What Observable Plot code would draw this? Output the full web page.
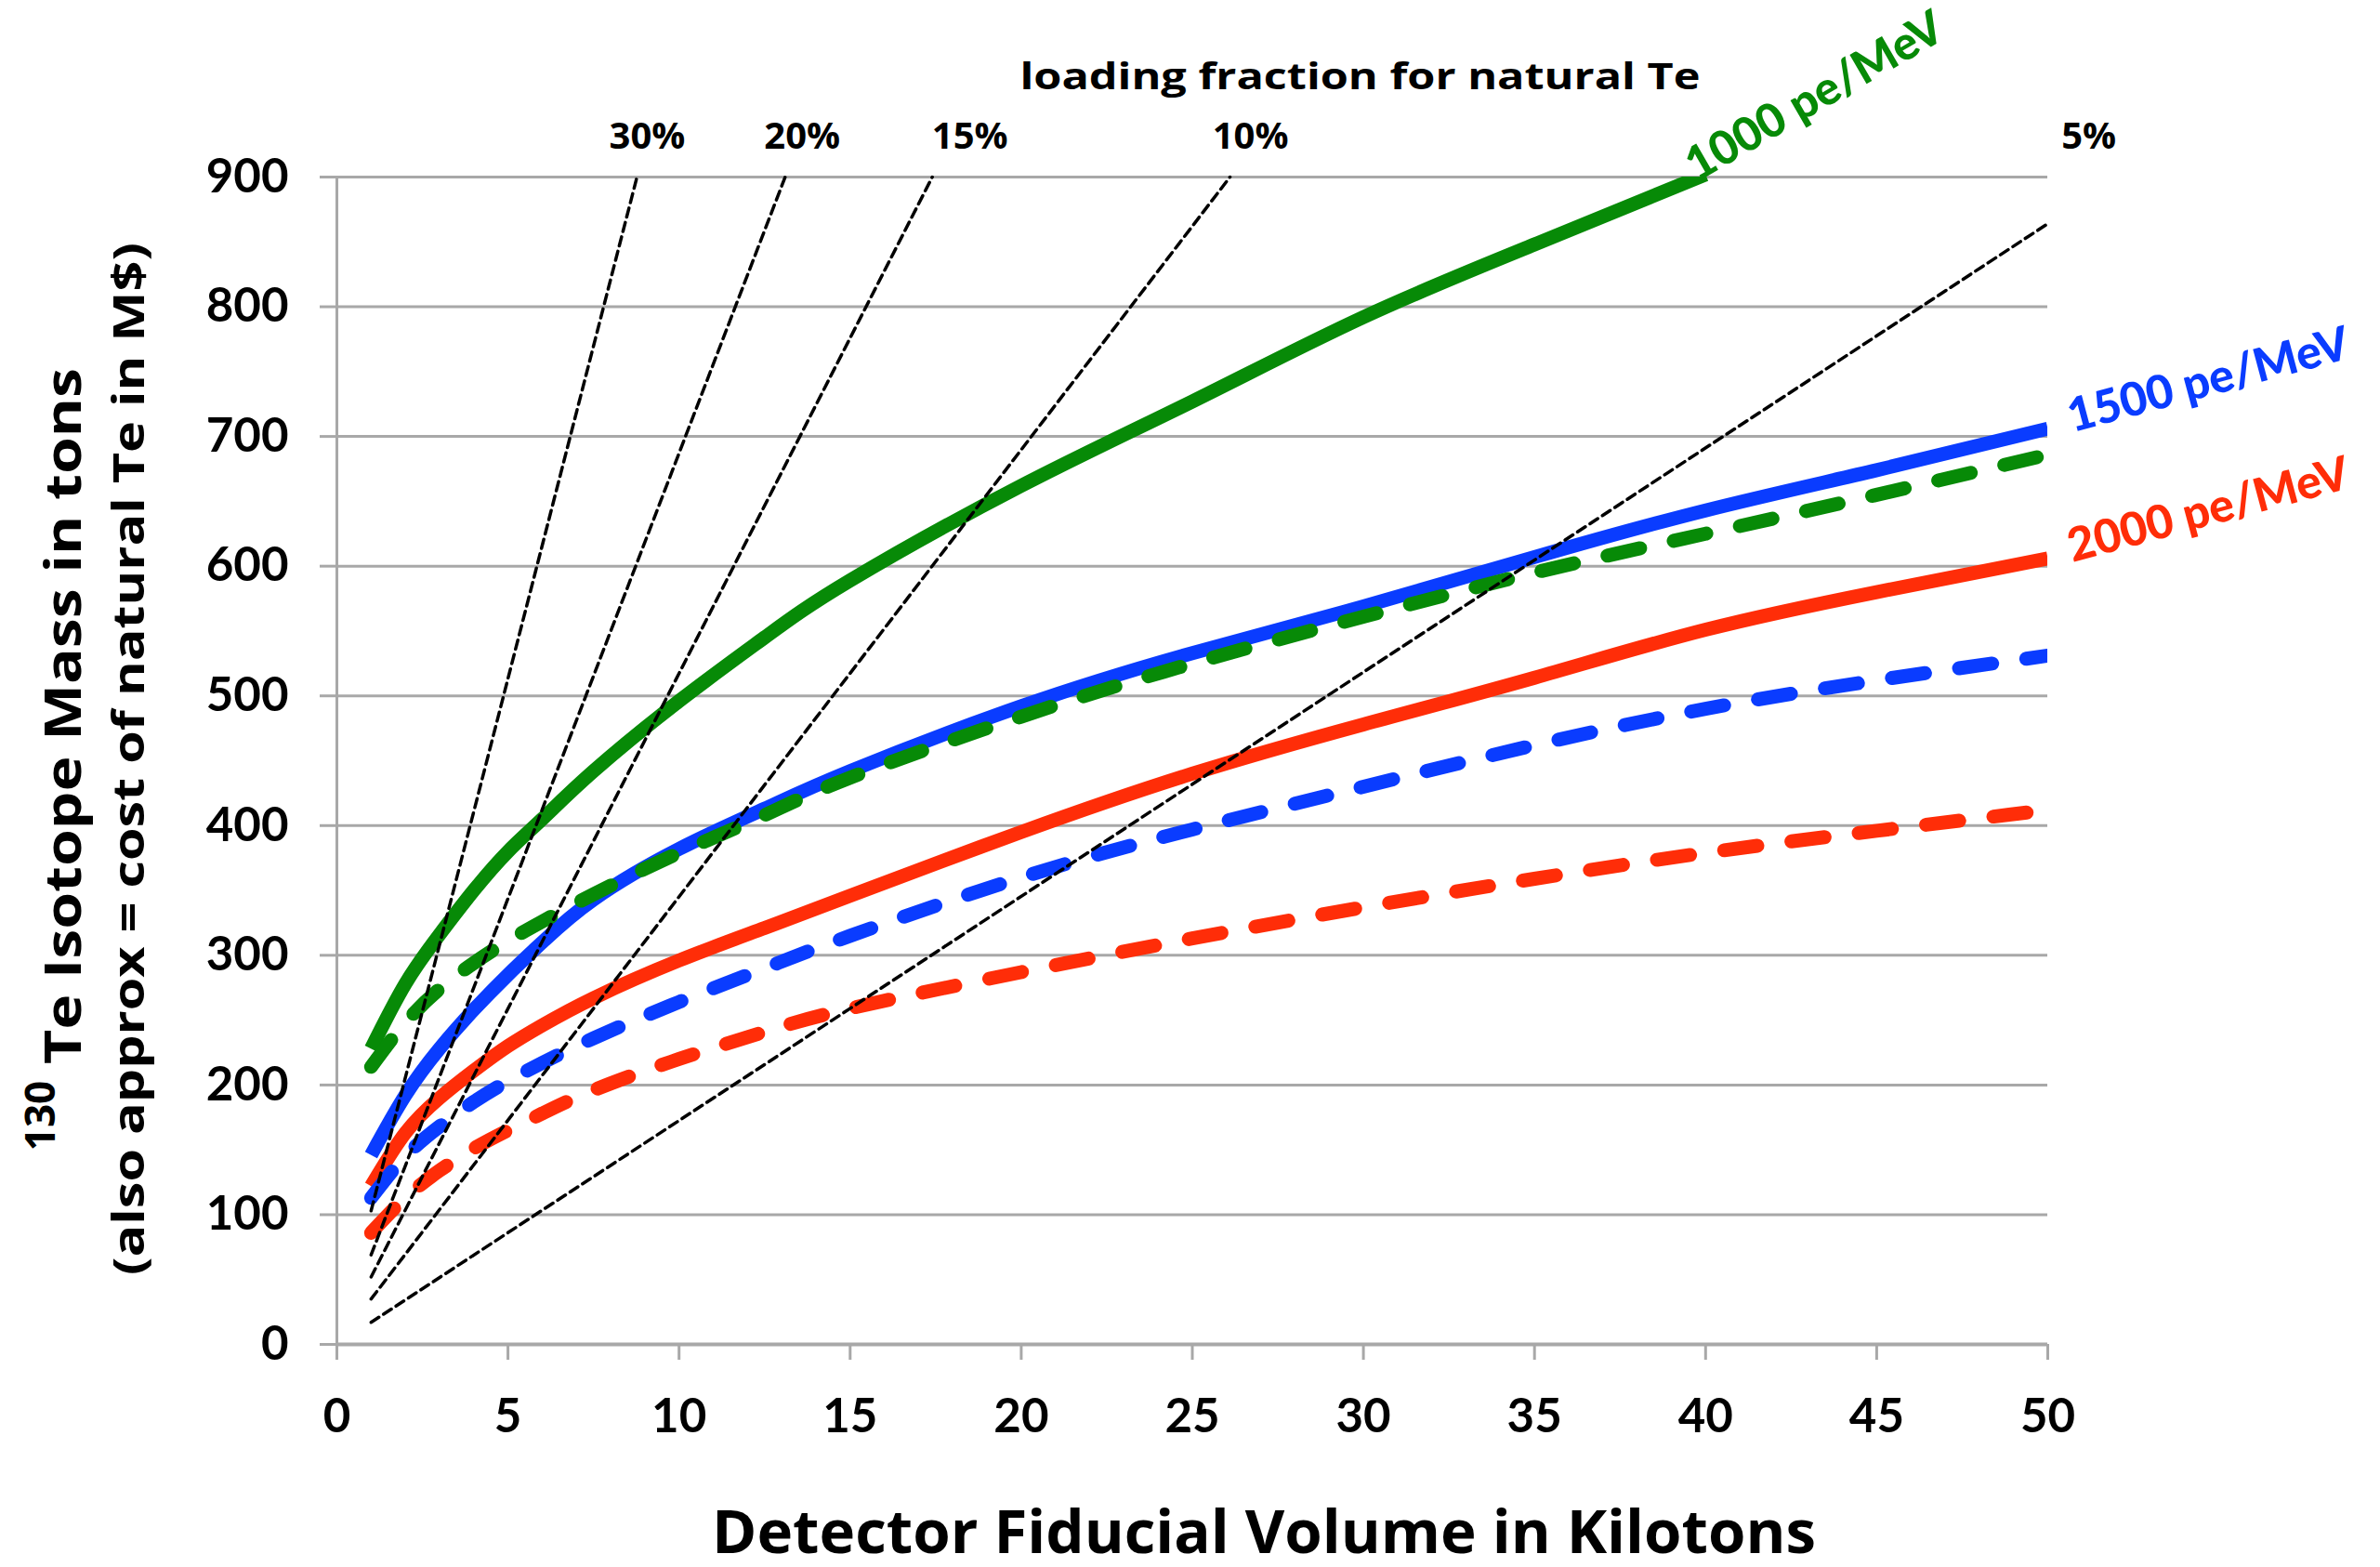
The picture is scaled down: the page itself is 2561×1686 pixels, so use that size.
<!DOCTYPE html>
<html>
<head>
<meta charset="utf-8">
<script src="https://cdn.jsdelivr.net/npm/d3@7"></script>
<script src="https://cdn.jsdelivr.net/npm/@observablehq/plot@0.6"></script>
<style>
  html, body { margin: 0; padding: 0; background: #fff; }
</style>
</head>
<body>
<div id="chart"></div>
<script>
// ---- Data ----
const volume = [1, 2, 3, 4, 5, 6, 7.5, 10, 12.5, 15, 20, 25, 30, 35, 40, 45, 50];

const solid1000  = [228, 278, 316, 350, 380, 405, 442, 496, 545, 589, 662, 727, 792, 848, 902, null, null];
const dashed1000 = [214, 248, 274, 294, 311, 326, 347, 379, 408, 437, 484, 525, 561, 595, 625, 655, 686];
const solid1500  = [146, 192, 228, 258, 285, 310, 343, 382, 413, 442, 492, 533, 569, 607, 643, 674, 706];
const dashed1500 = [113, 145, 168, 187, 203, 217, 236, 264, 290, 315, 360, 397, 430, 462, 490, 512, 531];
const solid2000  = [122, 163, 190, 211, 230, 246, 267, 296, 321, 346, 395, 440, 478, 514, 551, 580, 606];
const dashed2000 = [86, 113, 134, 151, 165, 178, 196, 220, 241, 259, 287, 313, 337, 359, 379, 396, 412];

const fractionLabels = ["30%", "20%", "15%", "10%", "5%"];
const fractionStartX = [1, 1, 1, 1, 1];
const fractionStartY = [103, 69, 52, 35, 17];
const fractionEndX   = [8.77, 13.1, 17.4, 26.1, 50];
const fractionEndY   = [900, 900, 900, 900, 864];
const fractionLabelX = [9.07, 13.6, 18.5, 26.7, 51.2];
const fractionLabelY = [931, 931, 931, 931, 931];

const seriesNames  = ["1000 pe/MeV", "1500 pe/MeV", "2000 pe/MeV"];
const seriesColors = ["#078a07", "#0a3cff", "#ff2d08"];
const seriesLabelX = [43.2, 54.7, 54.7];
const seriesLabelY = [962, 743, 643];
const seriesLabelAngle = [-30, -15, -15];

const xTicks = [0, 5, 10, 15, 20, 25, 30, 35, 40, 45, 50];
const yTicks = [0, 100, 200, 300, 400, 500, 600, 700, 800, 900];

const xTitle = "Detector Fiducial Volume in Kilotons";
const yTitleSup = "130";
const yTitle1 = "Te Isotope Mass in tons";
const yTitle2 = "(also approx = cost of natural Te in M$)";
const topTitle = "loading fraction for natural Te";

// ---- Build tables ----
const rows = arr => volume.map((v, i) => ({v, m: arr[i]})).filter(d => d.m != null);
const fractionRows = fractionLabels.flatMap((f, i) => [
  {f, v: fractionStartX[i], m: fractionStartY[i]},
  {f, v: fractionEndX[i], m: fractionEndY[i]}
]);
const fractionLabelRows = fractionLabels.map((f, i) => ({f, v: fractionLabelX[i], m: fractionLabelY[i]}));

const gray = "#a8a8a8";
const solidW = 15, dashW = 15, dash = "36,37";
const titleFont = "Open Sans, sans-serif";

const seriesMarks = [
  [solid2000, 2, false], [solid1500, 1, false], [solid1000, 0, false],
  [dashed2000, 2, true], [dashed1500, 1, true], [dashed1000, 0, true]
].map(([arr, c, dashed]) => Plot.line(rows(arr), {
  x: "v", y: "m", curve: "natural", clip: true,
  stroke: seriesColors[c], strokeWidth: dashed ? dashW : solidW,
  strokeLinecap: dashed ? "round" : "butt", strokeLinejoin: "round",
  strokeDasharray: dashed ? dash : null
}));

const labelMarks = seriesNames.map((name, i) => Plot.text([{v: seriesLabelX[i], m: seriesLabelY[i], t: name}], {
  x: "v", y: "m", text: "t", rotate: seriesLabelAngle[i], fill: seriesColors[i],
  fontSize: 50, fontWeight: 900, fontFamily: "Lato, sans-serif"
}));

const frameText = (t, o) => Plot.text([t], {textAnchor: "middle", lineAnchor: "middle",
  fontWeight: "bold", fontFamily: titleFont, fill: "black", ...o});

const chart = Plot.plot({
  width: 2561, height: 1686,
  marginLeft: 362, marginRight: 358, marginTop: 190, marginBottom: 240,
  x: {domain: [0, 50]},
  y: {domain: [0, 900]},
  style: {fontFamily: "Lato, sans-serif", fontWeight: "bold", background: "white", overflow: "visible", color: "black"},
  marks: [
    Plot.gridY(yTicks.slice(1), {stroke: gray, strokeOpacity: 1, strokeWidth: 3}),
    Plot.axisY({ticks: yTicks, tickSize: 18, tickPadding: 34, fontSize: 51, fontWeight: "bold",
      stroke: gray, strokeWidth: 3, strokeOpacity: 1, label: null, tickFormat: d => String(d)}),
    Plot.axisX({ticks: xTicks, tickSize: 17, tickPadding: 41, fontSize: 51, fontWeight: "bold",
      stroke: gray, strokeWidth: 3, strokeOpacity: 1, label: null, tickFormat: d => String(d)}),
    Plot.ruleY([0], {stroke: gray, strokeWidth: 4}),
    Plot.ruleX([0], {stroke: gray, strokeWidth: 3}),
    ...seriesMarks,
    Plot.line(fractionRows, {x: "v", y: "m", z: "f", stroke: "black", strokeWidth: 3.5, strokeDasharray: "10,6"}),
    Plot.text(fractionLabelRows, {x: "v", y: "m", text: "f", fontSize: 40, fontWeight: "bold", fontFamily: titleFont, fill: "black"}),
    Plot.text([{v: 29.9, m: 977, t: topTitle}], {x: "v", y: "m", text: "t", fontSize: 40, fontWeight: "bold", fontFamily: titleFont, fill: "black"}),
    ...labelMarks,
    frameText(xTitle, {frameAnchor: "bottom", dx: 77, dy: 204, fontSize: 64}),
    frameText(yTitle1, {frameAnchor: "left", rotate: -90, dx: -293, dy: -48, fontSize: 54}),
    frameText(yTitleSup, {frameAnchor: "left", rotate: -90, dx: -318, dy: 382, fontSize: 44}),
    frameText(yTitle2, {frameAnchor: "left", rotate: -90, dx: -222, dy: -2, fontSize: 46})
  ]
});

// Condensed title widths (the original uses a narrow face)
const titleLengths = {};
titleLengths[xTitle] = 1188;
titleLengths[yTitle1] = 749;
titleLengths[yTitle2] = 1111;
titleLengths[topTitle] = 732;
d3.select(chart).selectAll("text").each(function() {
  const L = titleLengths[this.textContent];
  if (L) { this.setAttribute("textLength", L); this.setAttribute("lengthAdjust", "spacingAndGlyphs"); }
});

document.getElementById("chart").appendChild(chart);
</script>
</body>
</html>
